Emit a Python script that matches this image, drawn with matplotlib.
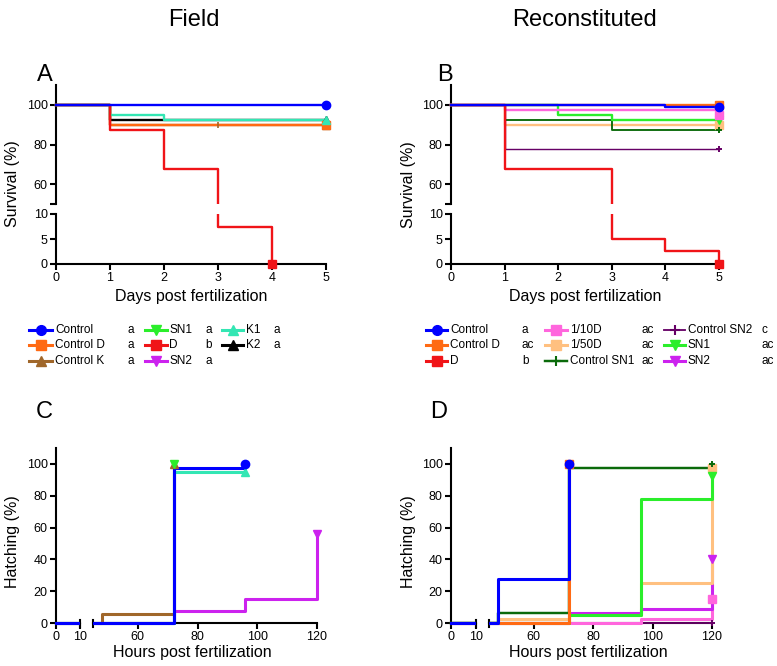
import matplotlib.pyplot as plt
from matplotlib.patches import Rectangle
from matplotlib.lines import Line2D

W, H = 777, 666
plt.rcParams['font.family'] = ['Liberation Sans', 'DejaVu Sans']

# ---- data: (time, value) step series ----
# A: field survival, days / %
A_control = ([0, 5], [100, 100])
A_control_k = ([0, 1, 5], [100, 90, 90])
A_k2 = ([0, 1, 2, 5], [100, 92.5, 92.5, 92.5])
A_control_d = ([0, 1, 5], [100, 90, 90])
A_k1 = ([0, 1, 2, 5], [100, 95, 92.5, 92.5])
A_d = ([0, 1, 2, 3, 4], [100, 87.5, 67.5, 7.5, 0])
A_control_k_censor = ([3], [90])

# B: reconstituted survival
B_control_d = ([0, 5], [100, 100])
B_tenth_d = ([0, 1, 5], [100, 97.5, 95])
B_fiftieth_d = ([0, 1, 5], [100, 90, 90])
B_control_sn1 = ([0, 1, 3, 5], [100, 92.5, 87.5, 87.5])
B_sn1 = ([0, 2, 3, 5], [100, 95, 92.5, 92.5])
B_control_sn2 = ([0, 1, 5], [100, 77.5, 77.5])
B_d = ([0, 1, 3, 4, 5], [100, 67.5, 5, 2.5, 0])
B_control = ([0, 4, 5], [100, 98.75, 98.75])

# C: field hatching, hours / %
C_control_k = ([0, 48, 72], [0, 5.5, 100])
C_sn1 = ([0, 72], [0, 100])
C_sn2 = ([0, 72, 96, 120], [0, 7.5, 15, 56])
C_k1 = ([0, 72, 96], [0, 95, 95])
C_control = ([0, 72, 96], [0, 97.5, 100])

# D: reconstituted hatching
D_control_sn2 = ([0, 120], [0, 0])
D_tenth_d = ([0, 96, 120], [0, 2.5, 15])
D_sn2 = ([0, 72, 96, 120], [0, 6.5, 9, 40])
D_fiftieth_d = ([0, 48, 72, 96, 120], [0, 2.5, 5, 25, 97.5])
D_sn1 = ([0, 72, 96, 120], [0, 5, 78, 92.5])
D_control_sn1 = ([0, 48, 72, 120], [0, 6, 97.5, 100])
D_control_d = ([0, 72], [0, 100])
D_control = ([0, 48, 72], [0, 27.5, 100])

field_names = [['Control', 'Control D', 'Control K'], ['SN1', 'D', 'SN2'], ['K1', 'K2']]
field_letters = [['a', 'a', 'a'], ['a', 'b', 'a'], ['a', 'a']]
rec_names = [['Control', 'Control D', 'D'], ['1/10D', '1/50D', 'Control SN1'],
             ['Control SN2', 'SN1', 'SN2']]
rec_letters = [['a', 'ac', 'b'], ['ac', 'ac', 'ac'], ['c', 'ac', 'ac']]

styles = {
    'Control': ('#0000FF', 'o', 1.0),
    'Control D': ('#FF6A13', 's', 1.0),
    'Control K': ('#A0672A', '^', 1.0),
    'SN1': ('#2BEE2B', 'v', 1.0),
    'D': ('#F01418', 's', 1.0),
    'SN2': ('#CC22EE', 'v', 1.0),
    'K1': ('#33E6B3', '^', 1.0),
    'K2': ('#000000', '^', 1.0),
    '1/10D': ('#FF66DD', 's', 1.0),
    '1/50D': ('#FFC080', 's', 1.0),
    'Control SN1': ('#0A6A0A', '+', 0.8),
    'Control SN2': ('#660066', '+', 0.6),
}

fig = plt.figure(figsize=(W / 100, H / 100), dpi=100)


def fig_axes(l, t, r, b):
    return fig.add_axes([l / W, 1 - b / H, (r - l) / W, (b - t) / H])


def clean(ax):
    ax.patch.set_visible(False)
    for s in ('top', 'right'):
        ax.spines[s].set_visible(False)
    for s in ('left', 'bottom'):
        ax.spines[s].set_linewidth(1.5)
    ax.tick_params(width=1.5, length=4, labelsize=9, pad=2)


def draw(axes_clips, pick, series, lw):
    for name, (t, v) in series:
        col, mk, f = styles[name]
        for ax, rect in axes_clips:
            lines = ax.step(t, v, where='post', color=col, lw=lw * f, zorder=3)
            for ln in lines:
                ln.set_clip_path(Rectangle(rect[:2], rect[2], rect[3], transform=ax.transAxes))
    for name, (t, v) in series:
        col, mk, f = styles[name]
        ax = pick(t[-1], v[-1])
        if mk == '+':
            ax.plot(t[-1], v[-1], marker=mk, ms=5, mew=1.4, color=col, clip_on=False, zorder=5)
        else:
            ax.plot(t[-1], v[-1], marker=mk, ms=6, color=col, mec=col, clip_on=False, zorder=5)


def survival_panel(x0, x1, series):
    top = fig_axes(x0, 85, x1, 204)
    bot = fig_axes(x0, 214, x1, 264)
    top.set_ylim(50, 110)
    bot.set_ylim(0, 10)
    for ax in (top, bot):
        clean(ax)
        ax.set_xlim(0, 5)
    top.spines['bottom'].set_visible(False)
    top.set_xticks([])
    top.set_yticks([50, 60, 80, 100])
    top.set_yticklabels(['', '60', '80', '100'])
    bot.set_yticks([0, 5, 10])
    bot.set_xticks(range(6))
    clips = [(top, (-0.05, 0, 1.1, 1.5)), (bot, (-0.05, -0.5, 1.1, 1.5))]
    draw(clips, lambda t, v: top if v >= 50 else bot, series, 1.7)
    return top, bot


def hatch_panel(x0, x10, x45, x120, series):
    left = fig_axes(x0, 448, x10, 623)
    right = fig_axes(x45, 448, x120, 623)
    left.set_xlim(0, 10)
    right.set_xlim(45, 120)
    for ax in (left, right):
        clean(ax)
        ax.set_ylim(0, 110)
    right.spines['left'].set_visible(False)
    right.set_yticks([])
    left.set_yticks(range(0, 101, 20))
    left.set_xticks([0, 10])
    right.set_xticks([60, 80, 100, 120])
    left.plot([10, 10], [-0.02, 0.02], transform=left.get_xaxis_transform(),
              color='k', lw=1.5, clip_on=False)
    right.plot([45, 45], [-0.02, 0.02], transform=right.get_xaxis_transform(),
               color='k', lw=1.5, clip_on=False)
    clips = [(left, (-0.1, -0.1, 1.1, 1.3)), (right, (0, -0.1, 1.1, 1.3))]
    draw(clips, lambda t, v: right if t >= 45 else left, series, 2.2)
    return left, right


# A
a_series = [('Control K', A_control_k), ('K2', A_k2), ('Control D', A_control_d),
            ('K1', A_k1), ('D', A_d), ('Control', A_control)]
a_top, a_bot = survival_panel(56, 326, a_series)
a_top.plot(A_control_k_censor[0], A_control_k_censor[1], marker='|', ms=4, mew=1.2,
           color=styles['Control K'][0], ls='none', zorder=4)

# B
b_series = [('Control D', B_control_d), ('1/50D', B_fiftieth_d),
            ('Control SN1', B_control_sn1), ('SN1', B_sn1), ('1/10D', B_tenth_d),
            ('Control SN2', B_control_sn2), ('D', B_d), ('Control', B_control)]
survival_panel(451, 719, b_series)

# C
c_series = [('Control K', C_control_k), ('SN2', C_sn2), ('K1', C_k1),
            ('SN1', C_sn1), ('Control', C_control)]
hatch_panel(56, 80, 93, 317, c_series)

# D
d_series = [('Control SN2', D_control_sn2), ('1/10D', D_tenth_d), ('SN2', D_sn2),
            ('1/50D', D_fiftieth_d), ('SN1', D_sn1), ('Control SN1', D_control_sn1),
            ('Control D', D_control_d), ('Control', D_control)]
hatch_panel(451, 476, 489, 712, d_series)


def ftext(x, y, s, **kw):
    fig.text(x / W, 1 - y / H, s, **kw)


ftext(194, 20, 'Field', fontsize=17, ha='center', va='center')
ftext(585, 20, 'Reconstituted', fontsize=17, ha='center', va='center')
for letter, x, y in (('A', 45, 75), ('B', 445, 75), ('C', 44, 412), ('D', 439, 412)):
    ftext(x, y, letter, fontsize=17, ha='center', va='center')

for x, y, s in ((191, 296, 'Days post fertilization'), (585, 296, 'Days post fertilization'),
                (192, 653, 'Hours post fertilization'), (588, 653, 'Hours post fertilization')):
    ftext(x, y, s, fontsize=11.5, ha='center', va='center')
for x, y, s in ((13, 184, 'Survival (%)'), (409, 185, 'Survival (%)'),
                (13, 542, 'Hatching (%)'), (409, 542, 'Hatching (%)')):
    ftext(x, y, s, fontsize=11.5, ha='center', va='center', rotation=90)


def legend(names, letters, handle_x, label_x, letter_x, rows_y):
    for ci, col_names in enumerate(names):
        for ri, name in enumerate(col_names):
            col, mk, f = styles[name]
            y = 1 - rows_y[ri] / H
            x1, x2 = handle_x[ci]
            fig.add_artist(Line2D([x1 / W, x2 / W], [y, y], color=col, lw=2.2 * f,
                                  transform=fig.transFigure))
            if mk == '+':
                fig.add_artist(Line2D([(x1 + x2) / 2 / W], [y], marker=mk, ms=7, mew=1.5,
                                      color=col, transform=fig.transFigure))
            else:
                fig.add_artist(Line2D([(x1 + x2) / 2 / W], [y], marker=mk, ms=7, color=col,
                                      transform=fig.transFigure))
            fig.text(label_x[ci] / W, y, name, fontsize=8.5, va='center', ha='left')
            fig.text(letter_x[ci] / W, y, letters[ci][ri], fontsize=8.5, va='center', ha='left')


rows = [330, 345, 361]
legend(field_names, field_letters, [(29, 52), (145, 167), (222, 243)],
       [55, 169, 246], [128, 205, 273], rows)
legend(rec_names, rec_letters, [(426, 447), (545, 567), (664, 685)],
       [450, 570, 688], [522, 642, 761], rows)

fig.savefig('out.png', dpi=100)
